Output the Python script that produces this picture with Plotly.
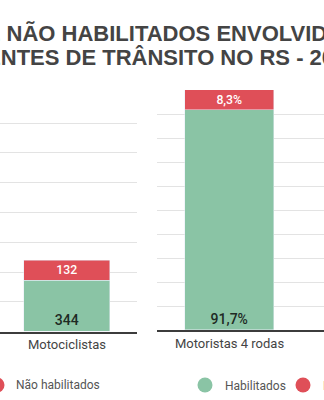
import plotly.graph_objects as go

# ---- data ----
cat_left = ["Motociclistas"]
hab_left = [344]
nao_left = [132]

cat_right = ["Motoristas 4 rodas"]
hab_right = [91.7]   # %
nao_right = [8.3]    # %

series_names = ["Habilitados", "Não habilitados"]
title_line1 = "HABILITADOS E NÃO HABILITADOS ENVOLVIDOS"
title_line2 = "EM ACIDENTES DE TRÂNSITO NO RS - 2019"

GREEN = "#8AC4A5"
RED = "#DF4F58"
FONT = "Roboto"
TITLE_FONT = "Liberation Sans"
W, H = 324, 400
B = 40                # bottom margin (legend lives there)
PH = H - B            # plot-area height


def py(p):
    """pixel row from top -> paper y"""
    return (PH - p) / PH


def px(p):
    """pixel column from left -> paper x"""
    return p / W


fig = go.Figure()

# left chart (counts)
fig.add_trace(go.Bar(x=cat_left, y=hab_left, marker_color=GREEN, width=0.63,
                     xaxis="x", yaxis="y", showlegend=False,
                     texttemplate="%{y}", textposition="inside", insidetextanchor="start",
                     textfont=dict(family=FONT, size=14, color="#1e2a24", weight=500),
                     hoverinfo="skip"))
fig.add_trace(go.Bar(x=cat_left, y=nao_left, marker_color=RED, width=0.63,
                     xaxis="x", yaxis="y", showlegend=False,
                     texttemplate="%{y}", textposition="inside", insidetextanchor="middle",
                     textfont=dict(family=FONT, size=14, color="white", weight=500),
                     hoverinfo="skip"))
# right chart (percent)
fig.add_trace(go.Bar(x=cat_right, y=hab_right, marker_color=GREEN, width=0.64,
                     xaxis="x2", yaxis="y2", showlegend=False,
                     texttemplate="%{y:.1f}%", textposition="inside", insidetextanchor="start",
                     textfont=dict(family=FONT, size=14, color="#1e2a24", weight=500),
                     hoverinfo="skip"))
fig.add_trace(go.Bar(x=cat_right, y=nao_right, marker_color=RED, width=0.64,
                     xaxis="x2", yaxis="y2", showlegend=False,
                     texttemplate="%{y:.1f}%", textposition="inside", insidetextanchor="middle",
                     textfont=dict(family=FONT, size=14, color="white", weight=500),
                     hoverinfo="skip"))

# legend entries of the right chart (circle markers)
for name, col in zip(series_names, [GREEN, RED]):
    fig.add_trace(go.Scatter(x=[None], y=[None], mode="markers", name=name,
                             marker=dict(symbol="circle", size=15, color=col),
                             legend="legend2", xaxis="x2", yaxis="y2"))

grid = "#E3E3E3"
axis_common = dict(showgrid=False, showline=True, linecolor="#3c3c3c", linewidth=2,
                   ticks="", tickfont=dict(family=FONT, size=13, color="#444"),
                   fixedrange=True)
legend_font = dict(family=FONT, size=12, color="#555")
title_font = dict(family=TITLE_FONT, size=22, color="#444", weight="bold")

fig.update_layout(
    width=W, height=H,
    margin=dict(l=0, r=0, t=0, b=B, pad=0, autoexpand=False),
    paper_bgcolor="white", plot_bgcolor="white",
    barmode="stack", bargap=0,
    separators=",.",
    font=dict(family=FONT, color="#444"),
    xaxis=dict(domain=[0, px(137)], type="category", range=[-0.489, 0.511], **axis_common),
    yaxis=dict(domain=[py(331.7), py(93.3)], range=[0, 1600], dtick=200,
               showgrid=True, gridcolor=grid, gridwidth=1, zeroline=False,
               showticklabels=False, fixedrange=True),
    xaxis2=dict(domain=[px(157), 1], type="category", range=[-0.518, 0.675],
                anchor="y2", **axis_common),
    yaxis2=dict(domain=[py(330), py(90)], range=[0, 100], dtick=10,
                anchor="x2", showgrid=True, gridcolor=grid, gridwidth=1, zeroline=False,
                showticklabels=False, fixedrange=True),
    legend2=dict(orientation="h", x=px(185), xanchor="left", y=py(385), yanchor="middle",
                 font=legend_font, bgcolor="rgba(0,0,0,0)",
                 entrywidth=53, entrywidthmode="pixels"),
    # legend of the left chart (only its right end is in view)
    shapes=[
        dict(type="circle", xref="paper", yref="paper",
             x0=px(-3 - 7.5), x1=px(-3 + 7.5), y0=py(385 + 7.5), y1=py(385 - 7.5),
             fillcolor=RED, line=dict(width=0)),
    ],
    annotations=[
        dict(text=series_names[1], xref="paper", yref="paper", x=px(14), xanchor="left",
             y=py(385), yanchor="middle", showarrow=False, font=legend_font),
        dict(text=title_line1, xref="paper", yref="paper", x=px(-171), xanchor="left",
             y=py(33.5), yanchor="middle", showarrow=False, font=title_font),
        dict(text=title_line2, xref="paper", yref="paper", x=px(-108), xanchor="left",
             y=py(58), yanchor="middle", showarrow=False, font=title_font),
    ],
)

fig.write_html("out.html", config={"displayModeBar": False})
